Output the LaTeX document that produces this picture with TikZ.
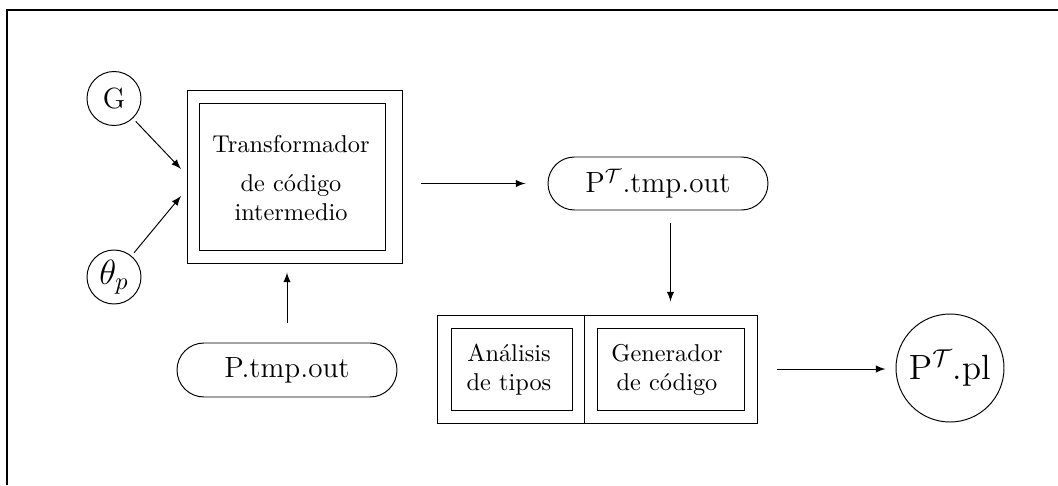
\documentclass[tikz,border=0pt]{standalone}
\usetikzlibrary{shapes.misc,arrows}
\begin{document}
\begin{tikzpicture}[x=0.411pt,y=-0.411pt,
  arr/.style={draw,-latex,line width=0.4pt},
  round/.style={draw,circle,inner sep=0pt,line width=0.4pt},
  pill/.style={draw,rounded rectangle,inner sep=0pt,line width=0.4pt,
    minimum width=220*0.411pt,minimum height=54*0.411pt,font=\large},
  boxline/.style={draw,rectangle,inner sep=0pt,line width=0.4pt},
  label/.style={align=center,inner sep=0pt}]
\useasboundingbox (0,0) rectangle (1058,485);
% frame lines
\draw[line width=0.8pt] (7,485) -- (7,10) -- (1058,10);

% inputs
\node[round,minimum size=54*0.411pt,font=\large] (G) at (114,98.5) {G};
\node[round,minimum size=54*0.411pt] (theta) at (114,277) {\Large$\theta_p$};

% intermediate code transformer
\node[boxline,minimum width=215*0.411pt,minimum height=173*0.411pt] (Tout) at (294.5,176.5) {};
\node[boxline,minimum width=186*0.411pt,minimum height=147*0.411pt] (Tin) at (292,176.5) {};
\node[label] (Ttext) at (291,178) {Transformador\\[4pt] de código\\ intermedio};

\coordinate (gin) at (181,169);
\coordinate (tin) at (181,196);
\draw[arr,shorten <=4*0.411pt] (G) -- (gin);
\draw[arr,shorten <=4*0.411pt] (theta) -- (tin);

% P.tmp.out
\node[pill] (ptmp) at (287,370) {P.tmp.out};
\draw[arr,shorten <=20*0.411pt,shorten >=9*0.411pt] (ptmp.north) -- (ptmp.north |- Tout.south);

% P^T.tmp.out
\node[pill,minimum height=53*0.411pt] (pTtmp) at (658,183.5) {$\mathrm{P}^{\mathcal{T}}$.tmp.out};
\draw[arr,shorten <=19*0.411pt,shorten >=22*0.411pt] (Tout.east |- pTtmp.west) -- (pTtmp.west);

% type analysis + code generator
\node[boxline,minimum width=147*0.411pt,minimum height=108*0.411pt] (Lout) at (510.5,369) {};
\node[boxline,minimum width=173*0.411pt,minimum height=108*0.411pt] (Rout) at (670.5,369) {};
\node[boxline,minimum width=121*0.411pt,minimum height=82*0.411pt] (Lin) at (511.5,369) {};
\node[boxline,minimum width=147*0.411pt,minimum height=82*0.411pt] (Rin) at (670.5,369) {};
\node[label] (Ltext) at (509,370) {Análisis\\ de tipos};
\node[label] (Rtext) at (667,370) {Generador\\ de código};
\draw[arr,shorten <=13*0.411pt,shorten >=13*0.411pt] (pTtmp.south -| Rout.north) -- (Rout.north);

% output
\node[round,minimum size=108*0.411pt,font=\Large] (PTpl) at (950,368) {$\mathrm{P}^{\mathcal{T}}$.pl};
\draw[arr,shorten <=20*0.411pt,shorten >=10*0.411pt] (Rout.east) -- (PTpl.west |- Rout.east);
\end{tikzpicture}
\end{document}
